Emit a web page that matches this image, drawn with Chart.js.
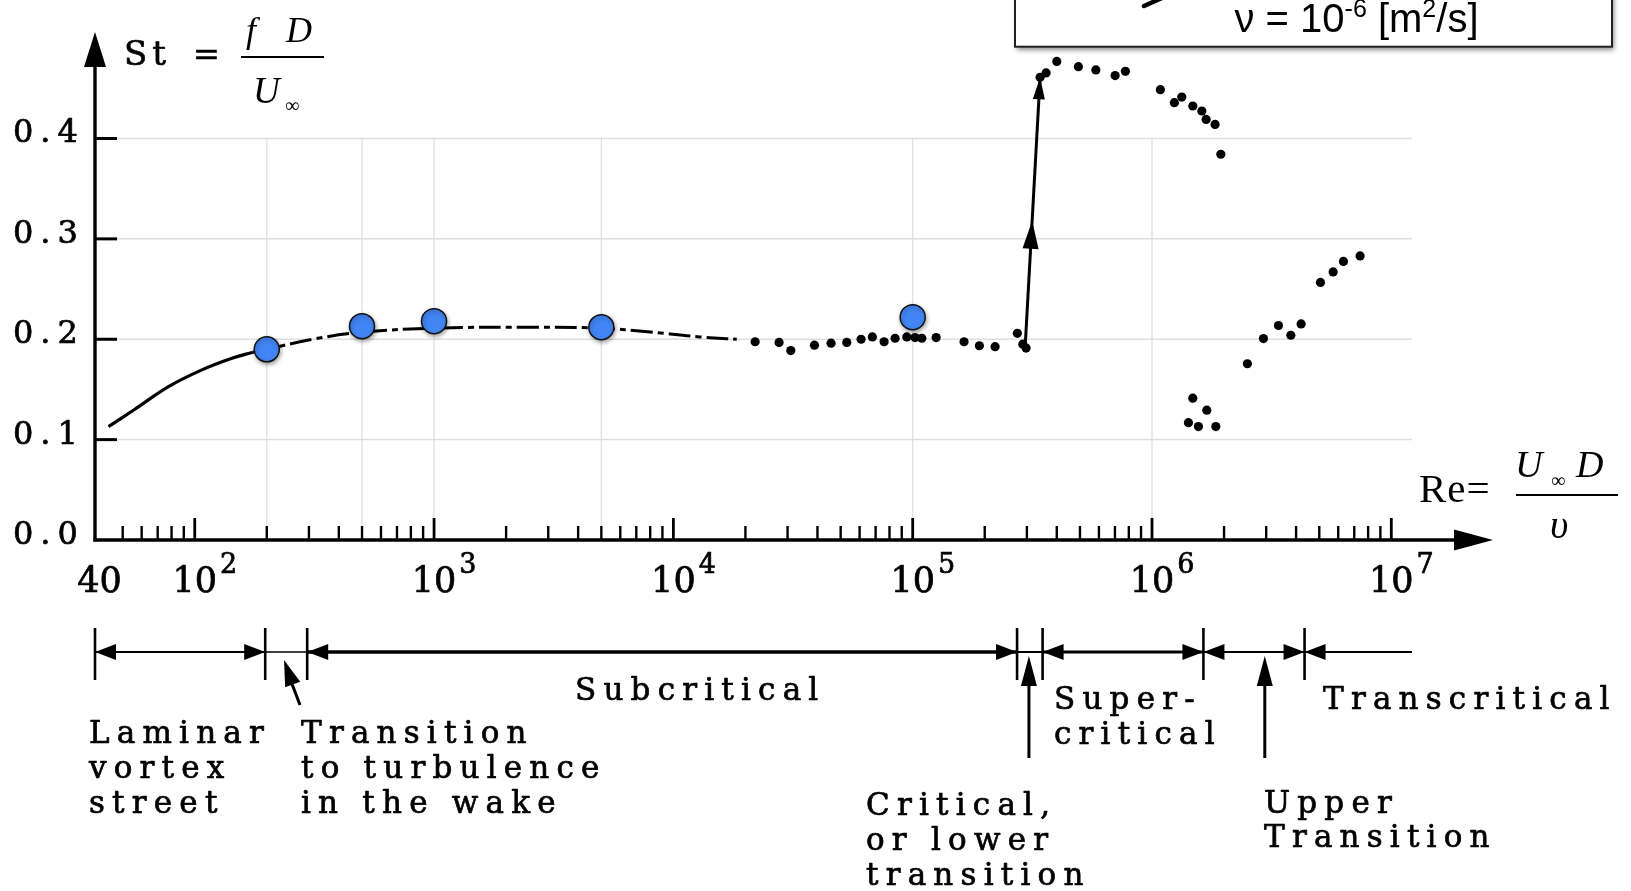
<!DOCTYPE html>
<html><head><meta charset="utf-8">
<script src="https://cdn.jsdelivr.net/npm/chart.js@4.4.1/dist/chart.umd.min.js"></script>
<style>html,body{margin:0;padding:0;background:#fff;overflow:hidden}#wrap{position:relative;width:1631px;height:891px}</style>
</head><body><div id="wrap"><canvas id="c"></canvas></div>
<script>
// ---------------- data ----------------
const curveSolidRe = [43.6, 56, 78, 106, 143, 175];
const curveSolidSt = [0.113, 0.130, 0.153, 0.169, 0.181, 0.187];
const curveDashRe = [175, 200, 311, 500, 1000, 2700, 5000, 7800, 12900, 18400];
const curveDashSt = [0.187, 0.190, 0.200, 0.207, 0.211, 0.212, 0.211, 0.2075, 0.2023, 0.200];
const blueRe = [200, 500, 1000, 5000, 100000];
const blueSt = [0.190, 0.213, 0.218, 0.212, 0.222];
const subRe = [21960, 27650, 30950, 38860, 45600, 53040, 60860, 67850, 75950, 84440, 94500, 102300, 109200, 125300, 163960, 190000, 221000, 273800, 288500, 297800];
const subSt = [0.1975, 0.1968, 0.1887, 0.1941, 0.1961, 0.1968, 0.2000, 0.2023, 0.1975, 0.2010, 0.2023, 0.2017, 0.2010, 0.2017, 0.1975, 0.1935, 0.1926, 0.2059, 0.1951, 0.1912];
const superRe = [340700, 360900, 400100, 492500, 582500, 701300, 774300, 1084000, 1240000, 1332000, 1481000, 1615000, 1683000, 1835000, 1939000];
const superSt = [0.461, 0.4653, 0.4768, 0.4716, 0.4683, 0.4627, 0.4669, 0.4486, 0.4357, 0.4413, 0.4324, 0.4274, 0.4190, 0.4140, 0.3843];
const transRe = [1420000, 1481000, 1563000, 1694000, 1848000, 2504000, 2922000, 3376000, 3803000, 4199000, 5056000, 5713000, 6308000, 7406000];
const transSt = [0.1169, 0.1413, 0.1130, 0.1293, 0.1130, 0.1756, 0.2007, 0.2137, 0.2040, 0.2153, 0.2566, 0.2671, 0.2775, 0.2830];
const jumpRe = [295000, 340700];
const jumpSt = [0.192, 0.461];
const jumpArrowSt = [0.318];

// axes / ticks
const xTickValues = [40, 1e2, 1e3, 1e4, 1e5, 1e6, 1e7];
const xTickBase = ['40', '10', '10', '10', '10', '10', '10'];
const xTickExp = ['', '2', '3', '4', '5', '6', '7'];
const yTickValues = [0, 0.1, 0.2, 0.3, 0.4];
const yTickLabels = ['0.0', '0.1', '0.2', '0.3', '0.4'];
const gridRe = [200, 500, 1000, 5000, 1e5, 1e6];
const gridSt = [0.1, 0.2, 0.3, 0.4];
const gridEndRe = 1.22e7;

// flow regimes
const regimeBounds = [38.3, 197, 295, 2.73e5, 3.49e5, 1.64e6, 4.34e6];
const regimeEndRe = 1.22e7;
const pointerRe = [3.06e5, 2.96e6];
const regimeTexts = {
  laminar: ['Laminar', 'vortex', 'street'],
  transition: ['Transition', 'to turbulence', 'in the wake'],
  sub: ['Subcritical'],
  supercrit: ['Super-', 'critical'],
  trans: ['Transcritical'],
  critical: ['Critical,', 'or lower', 'transition'],
  upper: ['Upper', 'Transition']
};

// minor tick values of the log axis
const xMinorTicks = [];
for (let m = 5; m <= 9; m++) xMinorTicks.push(m * 10);
for (let e = 2; e <= 6; e++) for (let m = 2; m <= 9; m++) xMinorTicks.push(m * Math.pow(10, e));
const xMajorTicks = [1e2, 1e3, 1e4, 1e5, 1e6, 1e7];

const pts = (xs, ys) => xs.map((x, i) => ({x, y: ys[i]}));

// ---------------- helpers ----------------
function txt(ctx, s, x, y, font, ls, heavy) {
  ctx.save();
  ctx.font = font; ctx.fillStyle = '#000'; ctx.strokeStyle = '#000';
  ctx.textAlign = 'left'; ctx.textBaseline = 'alphabetic';
  if ('letterSpacing' in ctx) ctx.letterSpacing = (ls || 0) + 'px';
  ctx.fillText(s, x, y);
  if (heavy) { ctx.lineWidth = heavy; ctx.lineJoin = 'round'; ctx.strokeText(s, x, y); }
  ctx.restore();
}
function seg(ctx, x1, y1, x2, y2, w) {
  ctx.beginPath(); ctx.lineWidth = w; ctx.moveTo(x1, y1); ctx.lineTo(x2, y2); ctx.stroke();
}
function head(ctx, tx, ty, dx, dy, len, half) {
  const n = Math.hypot(dx, dy), ux = dx / n, uy = dy / n;
  const bx = tx - ux * len, by = ty - uy * len;
  ctx.beginPath(); ctx.moveTo(tx, ty);
  ctx.lineTo(bx - uy * half, by + ux * half);
  ctx.lineTo(bx + uy * half, by - ux * half);
  ctx.closePath(); ctx.fill();
}

const SERIF = '"DejaVu Serif", "Liberation Serif", serif';
const TIMES = '"Liberation Serif", "Times New Roman", serif';
const SANS = '"Liberation Sans", Arial, sans-serif';
const HV = 0.7;

const gridPlugin = {
  id: 'grid',
  beforeDatasetsDraw(chart) {
    const ctx = chart.ctx, xs = chart.scales.x, ys = chart.scales.y;
    ctx.save();
    ctx.strokeStyle = '#dedede';
    const xe = xs.getPixelForValue(gridEndRe);
    gridSt.forEach(v => { const y = ys.getPixelForValue(v); seg(ctx, xs.getPixelForValue(xs.min), y, xe, y, 1.5); });
    gridRe.forEach(v => { const x = xs.getPixelForValue(v); seg(ctx, x, ys.getPixelForValue(0.4), x, ys.getPixelForValue(0), 1.2); });
    ctx.restore();
  },
  beforeDatasetDraw(chart, args) {
    if (args.index === 0) {
      const ctx = chart.ctx; ctx.save();
      ctx.shadowColor = 'rgba(0,0,0,0.35)'; ctx.shadowBlur = 4; ctx.shadowOffsetX = 1; ctx.shadowOffsetY = 2;
    }
  },
  afterDatasetDraw(chart, args) {
    if (args.index === 0) chart.ctx.restore();
  }
};

const decorPlugin = {
  id: 'decor',
  afterDatasetsDraw(chart) {
    const ctx = chart.ctx, xs = chart.scales.x, ys = chart.scales.y, a = chart.chartArea;
    const x0 = xs.getPixelForValue(xs.min), y0 = ys.getPixelForValue(0);
    ctx.save();
    ctx.strokeStyle = '#000'; ctx.fillStyle = '#000'; ctx.lineCap = 'butt';

    // jump arrows
    const jx0 = xs.getPixelForValue(jumpRe[0]), jy0 = ys.getPixelForValue(jumpSt[0]);
    const jx1 = xs.getPixelForValue(jumpRe[1]), jy1 = ys.getPixelForValue(jumpSt[1]);
    jumpArrowSt.forEach(s => {
      const t = (s - jumpSt[0]) / (jumpSt[1] - jumpSt[0]);
      head(ctx, jx0 + (jx1 - jx0) * t, jy0 + (jy1 - jy0) * t, jx1 - jx0, jy1 - jy0, 28, 8);
    });
    head(ctx, jx1, jy1, jx1 - jx0, jy1 - jy0, 22, 6);

    // axes
    seg(ctx, x0, a.top + 30, x0, y0 + 1.5, 3.4);
    seg(ctx, x0 - 1.5, y0, a.right - 35, y0, 3.4);
    head(ctx, x0, a.top, 0, -1, 35, 11);
    head(ctx, a.right, y0, 1, 0, 39, 10.5);

    // x ticks (drawn inward)
    xMinorTicks.forEach(v => { const x = xs.getPixelForValue(v); seg(ctx, x, y0, x, y0 - 14, 2.4); });
    xMajorTicks.forEach(v => { const x = xs.getPixelForValue(v); seg(ctx, x, y0, x, y0 - 22, 2.8); });
    // y ticks
    yTickValues.slice(1).forEach(v => { const y = ys.getPixelForValue(v); seg(ctx, x0, y, x0 + 22, y, 3); });

    // y tick labels
    yTickValues.forEach((v, i) => txt(ctx, yTickLabels[i], 13, ys.getPixelForValue(v) + 4, '32px ' + SERIF, 7, HV));
    // x tick labels
    xTickValues.forEach((v, i) => {
      const x = xs.getPixelForValue(v);
      ctx.save(); ctx.font = '35px ' + SERIF;
      const w = ctx.measureText(xTickBase[i]).width; ctx.restore();
      txt(ctx, xTickBase[i], x - w / 2, 592, '35px ' + SERIF, 0, HV);
      if (xTickExp[i]) txt(ctx, xTickExp[i], x + w / 2 + 3, 573, '27px ' + SERIF, 0, HV);
    });

    // axis titles
    txt(ctx, 'St', 124, 65, '34px ' + SERIF, 5, HV);
    txt(ctx, '=', 193, 65, '32px ' + SERIF, 0, HV);
    txt(ctx, 'f', 246, 42, 'italic 36px ' + TIMES, 0);
    txt(ctx, 'D', 286, 42, 'italic 36px ' + TIMES, 0);
    seg(ctx, 241, 57, 324, 57, 2);
    txt(ctx, 'U', 253, 103, 'italic 37px ' + TIMES, 0);
    txt(ctx, '\u221E', 285, 112, '20px ' + TIMES, 0);

    txt(ctx, 'Re=', 1419, 502, '41px ' + TIMES, 1);
    txt(ctx, 'U', 1515, 477, 'italic 38px ' + TIMES, 0);
    txt(ctx, '\u221E', 1551, 487, '20px ' + TIMES, 0);
    txt(ctx, 'D', 1576, 477, 'italic 38px ' + TIMES, 0);
    seg(ctx, 1516, 495, 1618, 495, 2);
    txt(ctx, '\u03C5', 1550, 538, 'italic 40px ' + TIMES, 0);

    // regime row
    const yr = 652;
    const bx = regimeBounds.map(v => xs.getPixelForValue(v));
    const xend = xs.getPixelForValue(regimeEndRe);
    bx.forEach(px => seg(ctx, px, 628, px, 680, 2.6));
    seg(ctx, bx[0], yr, bx[1], yr, 2); head(ctx, bx[0], yr, -1, 0, 21, 8); head(ctx, bx[1], yr, 1, 0, 21, 8);
    seg(ctx, bx[1], yr, bx[2], yr, 1.6);
    seg(ctx, bx[2], yr, bx[3], yr, 3.6); head(ctx, bx[2], yr, -1, 0, 21, 8); head(ctx, bx[3], yr, 1, 0, 21, 8);
    seg(ctx, bx[3], yr, bx[4], yr, 2);
    seg(ctx, bx[4], yr, bx[5], yr, 3); head(ctx, bx[4], yr, -1, 0, 21, 8); head(ctx, bx[5], yr, 1, 0, 21, 8);
    seg(ctx, bx[5], yr, bx[6], yr, 2); head(ctx, bx[5], yr, -1, 0, 21, 8); head(ctx, bx[6], yr, 1, 0, 21, 8);
    seg(ctx, bx[6], yr, xend, yr, 2); head(ctx, bx[6], yr, -1, 0, 21, 8);
    // pointer arrows
    pointerRe.forEach(v => { const x = xs.getPixelForValue(v); seg(ctx, x, 758, x, 680, 3); head(ctx, x, 656, 0, -1, 30, 8); });
    // transition pointer (diagonal)
    seg(ctx, 300, 705, 289, 676, 3); head(ctx, 284, 660, -16, -45, 26, 8);

    // regime texts
    const F = '31px ' + SERIF, LS = 7.2;
    const block = (lines, x, y, dy) => lines.forEach((s, i) => txt(ctx, s, x, y + i * dy, F, LS, HV));
    block(regimeTexts.laminar, 89, 743, 35);
    block(regimeTexts.transition, 301, 743, 35);
    block(regimeTexts.sub, 575, 700, 35);
    block(regimeTexts.supercrit, 1054, 709, 34.5);
    block(regimeTexts.trans, 1323, 709, 35);
    block(regimeTexts.critical, 866, 815, 35);
    block(regimeTexts.upper, 1264, 813, 34);

    // top-right box
    ctx.save();
    ctx.shadowColor = 'rgba(0,0,0,0.45)'; ctx.shadowBlur = 5; ctx.shadowOffsetX = 2; ctx.shadowOffsetY = 3;
    ctx.fillStyle = '#fff'; ctx.fillRect(1015, -10, 597, 56.7);
    ctx.restore();
    ctx.strokeStyle = '#222'; ctx.lineWidth = 2; ctx.strokeRect(1015, -10, 597, 56.7);
    ctx.strokeStyle = '#000'; ctx.lineCap = 'round'; seg(ctx, 1144, 6, 1162, -2, 4.5); ctx.lineCap = 'butt';
    // nu = 10^-6 [m^2/s]
    const parts = [['\u03BD = 10', 40, 0], ['-6', 25, -15], [' [m', 40, 0], ['2', 25, -15], ['/s]', 40, 0]];
    let tw = 0;
    parts.forEach(p => { ctx.font = p[1] + 'px ' + SANS; tw += ctx.measureText(p[0]).width; });
    let cx = 1356.5 - tw / 2;
    parts.forEach(p => { ctx.font = p[1] + 'px ' + SANS; txt(ctx, p[0], cx, 32 + p[2], p[1] + 'px ' + SANS, 0); cx += ctx.measureText(p[0]).width; });

    ctx.restore();
  }
};

const chart = new Chart(document.getElementById('c'), {
  type: 'scatter',
  data: {
    datasets: [
      {label: 'St (marked)', data: pts(blueRe, blueSt), pointRadius: 12.5, pointBackgroundColor: '#4285f4', pointBorderColor: '#111', pointBorderWidth: 1.5, showLine: false},
      {label: 'Subcritical data', data: pts(subRe, subSt), pointRadius: 4.6, pointBackgroundColor: '#000', pointBorderWidth: 0, showLine: false},
      {label: 'Supercritical data', data: pts(superRe, superSt), pointRadius: 4.6, pointBackgroundColor: '#000', pointBorderWidth: 0, showLine: false},
      {label: 'Transcritical data', data: pts(transRe, transSt), pointRadius: 4.6, pointBackgroundColor: '#000', pointBorderWidth: 0, showLine: false},
      {label: 'Jump', data: pts(jumpRe, jumpSt), showLine: true, borderColor: '#000', borderWidth: 3, pointRadius: 0},
      {label: 'Curve', data: pts(curveSolidRe, curveSolidSt), showLine: true, borderColor: '#000', borderWidth: 3.2, pointRadius: 0, tension: 0.4},
      {label: 'Curve dashed', data: pts(curveDashRe, curveDashSt), showLine: true, borderColor: '#000', borderWidth: 3, pointRadius: 0, tension: 0.4, borderDash: [22, 5, 6, 5]}
    ]
  },
  options: {
    responsive: true, maintainAspectRatio: false, animation: false,
    layout: {padding: {left: 95, right: 138, top: 32, bottom: 351}},
    scales: {
      x: {type: 'logarithmic', min: 38.3, max: 2.66e7, display: false},
      y: {type: 'linear', min: 0, max: 0.5061, display: false}
    },
    plugins: {legend: {display: false}, tooltip: {enabled: false}},
    elements: {point: {hoverRadius: 0}}
  },
  plugins: [gridPlugin, decorPlugin]
});
</script></body></html>
